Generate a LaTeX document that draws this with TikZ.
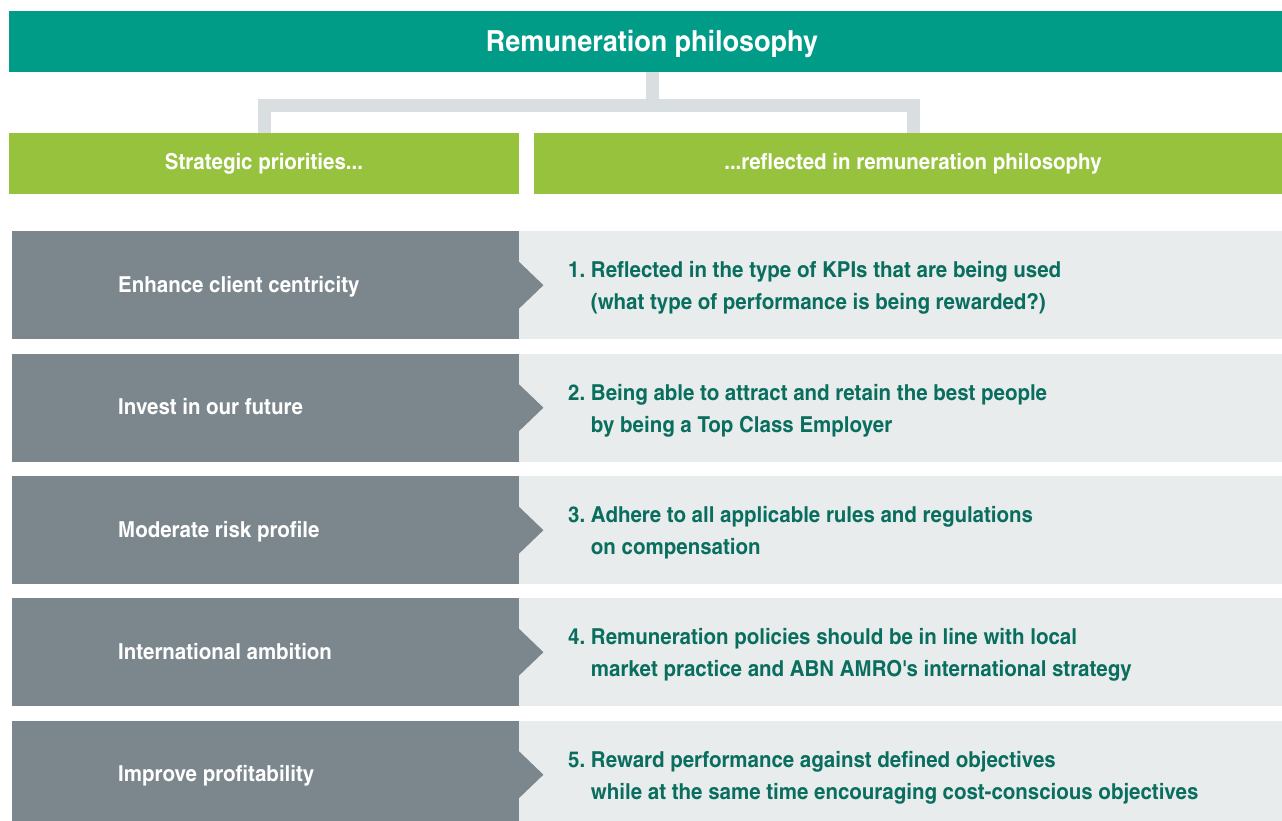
\documentclass[tikz,border=0pt]{standalone}
\usepackage{fontspec}
\setmainfont{TeX Gyre Heros Cn}[FakeStretch=1.135]
\frenchspacing
\definecolor{teal}{HTML}{009C88}
\definecolor{leaf}{HTML}{96C23E}
\definecolor{slate}{HTML}{7B878D}
\definecolor{mist}{HTML}{E8ECED}
\definecolor{connc}{HTML}{D9DEE0}
\definecolor{deepteal}{HTML}{0A6E5E}
\tikzset{
  box/.style={rectangle, inner sep=0pt, anchor=north west},
  conn/.style={draw=connc, line width=13pt, line join=miter},
  lefttxt/.style={anchor=base west, inner sep=0pt, text=white, font=\bfseries\fontsize{22}{26}\selectfont},
  righttxt/.style={anchor=west, inner sep=0pt, text=deepteal, align=left, font=\bfseries\fontsize{22}{32}\selectfont},
  headtxt/.style={anchor=base, inner sep=0pt, text=white, font=\bfseries\fontsize{22}{26}\selectfont},
}
\begin{document}
\begin{tikzpicture}[x=1pt, y=-1pt]
\useasboundingbox (0,0) rectangle (1282,821);
\clip (0,0) rectangle (1282,821);
% title bar
\node[box, fill=teal, minimum width=1273pt, minimum height=61pt] (bar) at (9,11) {};
\node[anchor=base, inner sep=0pt, text=white, font=\bfseries\fontsize{29}{32}\selectfont] (title) at (652,52) {Remuneration philosophy};
% green headers
\node[box, fill=leaf, minimum width=510pt, minimum height=61pt] (gl) at (9,133) {};
\node[box, fill=leaf, minimum width=748pt, minimum height=61pt] (gr) at (534,133) {};
\node[headtxt] (glt) at (264,170) {Strategic priorities...};
\node[headtxt] (grt) at (913,170) {...reflected in remuneration philosophy};
% connector
\coordinate (hy) at (652,105.5);
\draw[conn] (gl.north) |- (hy) -| (gr.north -| 913,0);
\draw[conn] (title |- bar.south) -- (hy);
% rows
\foreach \i/\top/\lt/\rt in {
  1/231/{Enhance client centricity}/{1. Reflected in the type of KPIs that are being used\\\hphantom{1. }(what type of performance is being rewarded?)},
  2/353.5/{Invest in our future}/{2. Being able to attract and retain the best people\\\hphantom{2. }by being a Top Class Employer},
  3/476/{Moderate risk profile}/{3. Adhere to all applicable rules and regulations\\\hphantom{3. }on compensation},
  4/598/{International ambition}/{4. Remuneration policies should be in line with local\\\hphantom{4. }market practice and ABN AMRO\textquotesingle s international strategy},
  5/720.5/{Improve profitability}/{5. Reward performance against defined objectives\\\hphantom{5. }while at the same time encouraging cost-conscious objectives}}{
  \node[box, fill=mist, minimum width=763pt, minimum height=108pt] (r\i) at (519,\top) {};
  \node[box, fill=slate, minimum width=507pt, minimum height=108pt] (l\i) at (12,\top) {};
  \fill[slate] ([yshift=24pt,xshift=-1pt]l\i.east) -- ([xshift=24pt]l\i.east) -- ([yshift=-24pt,xshift=-1pt]l\i.east) -- cycle;
  \node[lefttxt] (lt\i) at (118,\top+61) {\lt};
  \node[righttxt] (rt\i) at (568,\top+57) {\rt};
}
\end{tikzpicture}
\end{document}
